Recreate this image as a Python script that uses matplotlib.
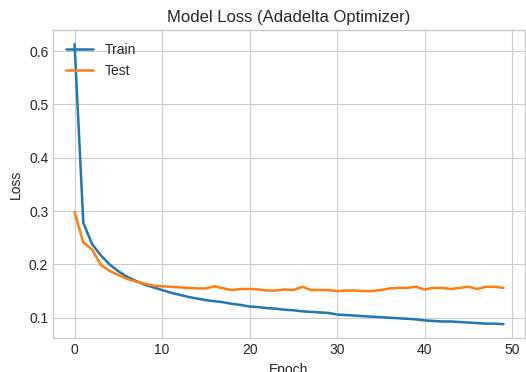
import matplotlib
matplotlib.use('Agg')
import matplotlib.pyplot as plt

# Loss history per epoch
train_loss = [0.613, 0.278, 0.238, 0.217, 0.200, 0.187, 0.177, 0.169, 0.162, 0.157,
              0.152, 0.147, 0.143, 0.139, 0.136, 0.133, 0.131, 0.129, 0.126, 0.124,
              0.121, 0.120, 0.118, 0.117, 0.115, 0.114, 0.112, 0.111, 0.110, 0.109,
              0.106, 0.105, 0.104, 0.103, 0.102, 0.101, 0.100, 0.099, 0.098, 0.097,
              0.095, 0.094, 0.093, 0.093, 0.092, 0.091, 0.090, 0.089, 0.089, 0.088]
test_loss = [0.298, 0.241, 0.228, 0.199, 0.188, 0.180, 0.173, 0.168, 0.164, 0.160,
             0.159, 0.158, 0.157, 0.156, 0.155, 0.155, 0.159, 0.155, 0.152, 0.154,
             0.154, 0.153, 0.151, 0.151, 0.153, 0.152, 0.158, 0.152, 0.152, 0.152,
             0.150, 0.151, 0.151, 0.150, 0.150, 0.152, 0.155, 0.156, 0.156, 0.158,
             0.153, 0.156, 0.156, 0.154, 0.156, 0.158, 0.154, 0.158, 0.158, 0.156]
epochs = list(range(len(train_loss)))

plt.style.use('seaborn-v0_8-whitegrid')
plt.rcParams['font.family'] = ['Liberation Sans', 'DejaVu Sans']

fig = plt.figure(figsize=(5.26, 3.72), dpi=100)
ax = fig.add_axes([0.101, 0.091, 0.897, 0.828])

ax.plot(epochs, train_loss, color='#1f77b4', lw=1.8, label='Train')
ax.plot(epochs, test_loss, color='#ff7f0e', lw=1.8, label='Test')

ax.set_title('Model Loss (Adadelta Optimizer)', fontsize=12)
ax.set_xlabel('Epoch', fontsize=10)
ax.set_ylabel('Loss', fontsize=10)
ax.tick_params(labelsize=10)
ax.set_yticks([0.1, 0.2, 0.3, 0.4, 0.5, 0.6])
ax.legend(loc='upper left', fontsize=10)

fig.savefig('out.png', dpi=100)
